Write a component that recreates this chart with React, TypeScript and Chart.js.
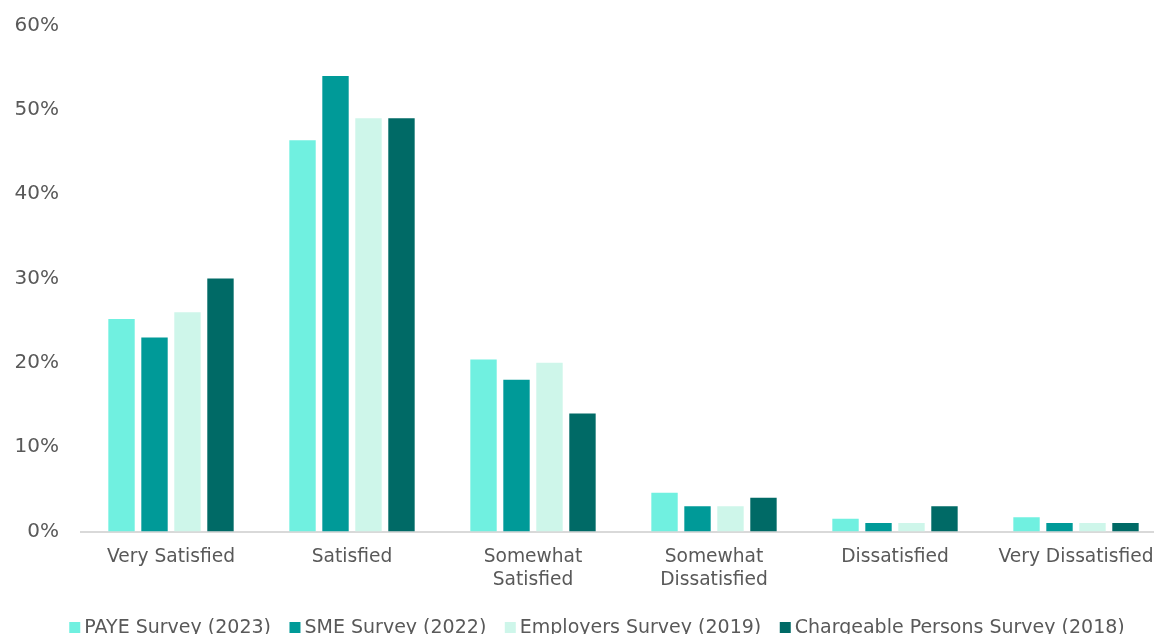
import React, { useEffect, useRef } from "react";
import { Chart, registerables } from "chart.js";

Chart.register(...registerables);

const categories: (string | string[])[] = [
  "Very Satisfied",
  "Satisfied",
  ["Somewhat", "Satisfied"],
  ["Somewhat", "Dissatisfied"],
  "Dissatisfied",
  "Very Dissatisfied",
];

const payeSurvey2023 = [25.2, 46.4, 20.4, 4.6, 1.5, 1.7];
const smeSurvey2022 = [23, 54, 18, 3, 1, 1];
const employersSurvey2019 = [26, 49, 20, 3, 1, 1];
const chargeablePersons2018 = [30, 49, 14, 4, 3, 1];

const seriesLabels = [
  "PAYE Survey (2023)",
  "SME Survey (2022)",
  "Employers Survey (2019)",
  "Chargeable Persons Survey (2018)",
];
const seriesColors = ["#70F0E0", "#009A98", "#CEF6EA", "#006A66"];

const yTicks = [0, 10, 20, 30, 40, 50, 60];

const FONT = '"DejaVu Sans", Verdana, sans-serif';
const TEXT = "#595959";
const OFFSET = 8;

const legendPlugin = {
  id: "bottomLegend",
  afterDraw(chart: any) {
    const ctx = chart.ctx as CanvasRenderingContext2D;
    ctx.save();
    ctx.font = `19px ${FONT}`;
    const box = 11;
    const gap = 4;
    const spacing = 18.5;
    const items = chart.data.datasets.map((ds: any) => ({
      label: ds.label as string,
      color: ds.backgroundColor as string,
      w: box + gap + ctx.measureText(ds.label).width,
    }));
    const total =
      items.reduce((s: number, it: any) => s + it.w, 0) + spacing * (items.length - 1);
    let x = 597 - total / 2;
    const baseline = 632.5 + OFFSET;
    for (const it of items) {
      ctx.fillStyle = it.color;
      ctx.fillRect(x, 622 + OFFSET, box, box);
      ctx.fillStyle = TEXT;
      ctx.textBaseline = "alphabetic";
      ctx.textAlign = "left";
      ctx.fillText(it.label, x + box + gap, baseline);
      x += it.w + spacing;
    }
    ctx.restore();
  },
};

export default function App() {
  const ref = useRef<HTMLCanvasElement | null>(null);
  useEffect(() => {
    if (!ref.current) return;
    const data = [payeSurvey2023, smeSurvey2022, employersSurvey2019, chargeablePersons2018];
    const chart = new Chart(ref.current, {
      type: "bar",
      data: {
        labels: categories,
        datasets: data.map((d, i) => ({
          label: seriesLabels[i],
          data: d,
          backgroundColor: seriesColors[i],
          borderWidth: 0,
          categoryPercentage: 0.729,
          barPercentage: 0.8,
        })),
      },
      options: {
        responsive: false,
        animation: false,
        devicePixelRatio: 1,
        layout: { padding: { top: 16, right: 13.5, left: 0, bottom: 0 } },
        plugins: {
          legend: { display: false },
          tooltip: { enabled: false },
        },
        scales: {
          x: {
            grid: { display: false, drawTicks: false },
            border: { display: true, color: "#D9D9D9", width: 2 },
            ticks: {
              color: TEXT,
              font: { family: FONT, size: 18.67, lineHeight: 1.23 },
              padding: 14.5,
              maxRotation: 0,
              autoSkip: false,
            },
            afterFit: (scale: any) => {
              scale.height = 102.5;
            },
          },
          y: {
            min: 0,
            max: 60,
            grid: { display: false, drawTicks: false },
            border: { display: false },
            afterBuildTicks: (scale: any) => {
              scale.ticks = yTicks.map((v) => ({ value: v }));
            },
            ticks: {
              color: TEXT,
              font: { family: FONT, size: 20 },
              padding: 21.5,
              callback: (v: any) => `${v}%`,
            },
            afterFit: (scale: any) => {
              scale.width = 80.5;
            },
          },
        },
      },
      plugins: [legendPlugin],
    });
    return () => chart.destroy();
  }, []);

  return (
    <div
      style={{
        position: "fixed",
        left: 0,
        top: -OFFSET,
        width: 1180,
        height: 634 + OFFSET,
        background: "#fff",
        overflow: "hidden",
      }}
    >
      <canvas
        ref={ref}
        width={1180}
        height={634 + OFFSET}
        style={{ display: "block" }}
      />
    </div>
  );
}
